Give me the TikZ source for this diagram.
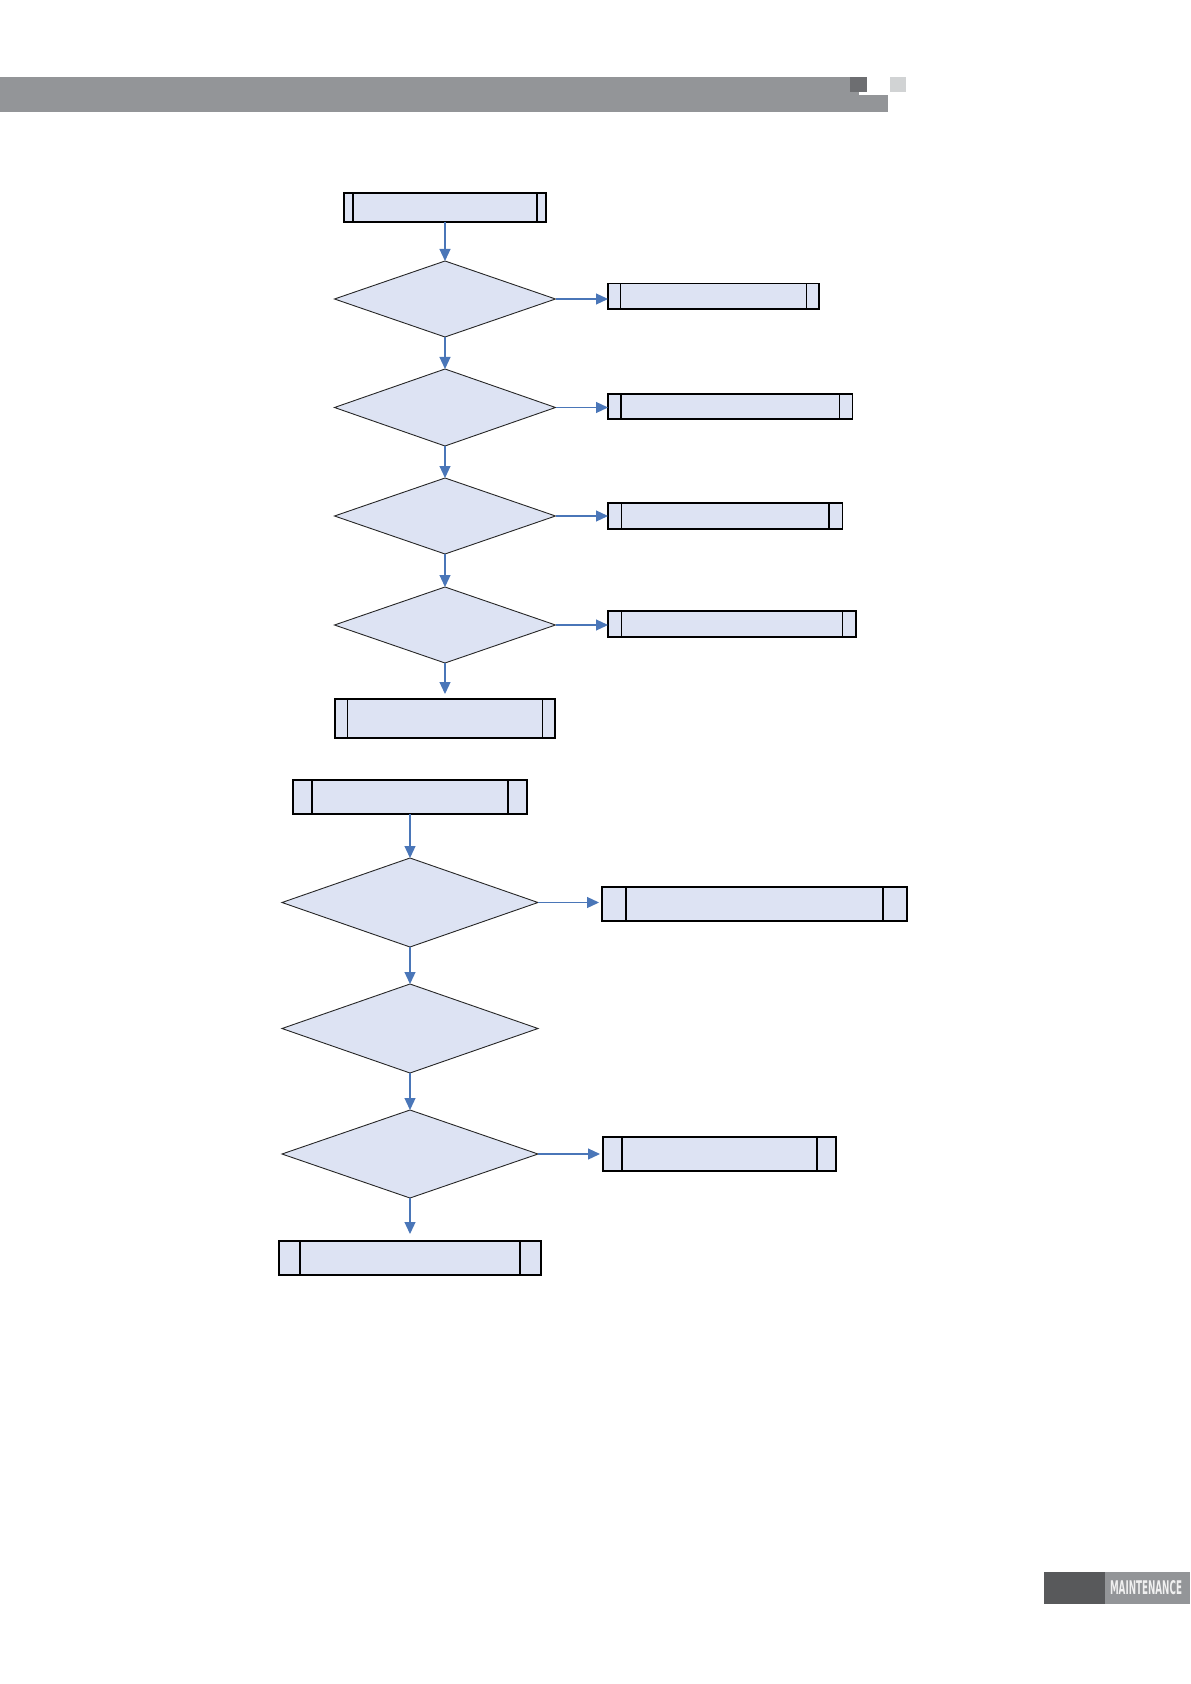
\documentclass[tikz,border=0pt]{standalone}
\usepackage{fontspec}
\setmainfont{DejaVu Sans}
\usetikzlibrary{shapes.geometric,arrows.meta,fit,calc}
\definecolor{barGray}{RGB}{147,149,152}
\definecolor{darkSq}{RGB}{109,110,113}
\definecolor{lightSq}{RGB}{209,211,212}
\definecolor{footDark}{RGB}{88,89,91}
\definecolor{shapeFill}{RGB}{221,227,243}
\definecolor{arrowBlue}{RGB}{74,118,184}
\tikzset{
  procbox/.style={draw=black, line width=0.6pt, fill=shapeFill, inner sep=0pt, outer sep=0pt},
  decision/.style={diamond, draw=black!85, line width=0.45pt, fill=shapeFill, inner sep=0pt, outer sep=0pt, text width=0pt, align=center},
  flowarrow/.style={draw=arrowBlue, line width=0.6pt, -{Triangle[length=6pt,width=5.5pt]}},
  innerline/.style={draw=black, line width=0.6pt}
}
\newcommand{\procnode}[6]{%
  \node[procbox, fit={(#2,#3) (#4,#5)}] (#1) {};
  \draw[innerline] ($(#1.north west)+(#6,0)$) -- ($(#1.south west)+(#6,0)$);
  \draw[innerline] ($(#1.north east)-(#6,0)$) -- ($(#1.south east)-(#6,0)$);
}
\begin{document}
\begin{tikzpicture}[x=0.5pt,y=-0.5pt]
\useasboundingbox (0,0) rectangle (1190,1684);
% header bar
\fill[barGray] (0,77) rectangle (859,112);
\fill[barGray] (859,95) rectangle (888,112);
\fill[darkSq] (850,77) rectangle (867,92);
\fill[lightSq] (890,77) rectangle (906,92);
% footer
\fill[footDark] (1044,1572) rectangle (1105,1604);
\fill[barGray] (1105,1572) rectangle (1190,1604);
\node[inner sep=0pt, text=white!94!black] (foot) at (1146,1588) {\resizebox{36pt}{7pt}{\bfseries MAINTENANCE}};

% ---------- first chart ----------
\procnode{t0}{344}{193}{546}{222}{9}
\node[decision, minimum width=110.5pt, minimum height=38pt] (d1) at (445,299) {};
\node[decision, minimum width=110.5pt, minimum height=38.5pt] (d2) at (445,407.5) {};
\node[decision, minimum width=110.5pt, minimum height=38pt] (d3) at (445,516) {};
\node[decision, minimum width=110.5pt, minimum height=38pt] (d4) at (445,625) {};
\procnode{s1}{608}{283.5}{819}{309}{12.5}
\procnode{s2}{608}{394}{852.5}{419}{13}
\procnode{s3}{608}{503}{842.5}{529}{13.5}
\procnode{s4}{608}{611}{856}{637}{13.5}
\procnode{a0}{335}{699}{555}{738}{12.5}

\draw[flowarrow] (t0.south) -- (d1.north);
\draw[flowarrow] (d1.south) -- (d2.north);
\draw[flowarrow] (d2.south) -- (d3.north);
\draw[flowarrow] (d3.south) -- (d4.north);
\draw[flowarrow, shorten >=2.5pt] (d4.south) -- (a0.north);
\draw[flowarrow] (d1.east) -- (d1.east -| s1.west);
\draw[flowarrow] (d2.east) -- (d2.east -| s2.west);
\draw[flowarrow] (d3.east) -- (d3.east -| s3.west);
\draw[flowarrow] (d4.east) -- (d4.east -| s4.west);

% ---------- second chart ----------
\procnode{t1}{293}{780}{527}{814}{19}
\node[decision, minimum width=128pt, minimum height=44.5pt] (b1) at (410,902.5) {};
\node[decision, minimum width=128pt, minimum height=44.5pt] (b2) at (410,1028.5) {};
\node[decision, minimum width=128pt, minimum height=44pt] (b3) at (410,1154) {};
\procnode{r1}{602}{887}{907}{921}{24}
\procnode{r3}{603}{1137}{836}{1171}{19}
\procnode{bb}{279}{1241}{541}{1275}{21}

\draw[flowarrow] (t1.south) -- (b1.north);
\draw[flowarrow] (b1.south) -- (b2.north);
\draw[flowarrow] (b2.south) -- (b3.north);
\draw[flowarrow, shorten >=3.5pt] (b3.south) -- (bb.north);
\draw[flowarrow, shorten >=1.5pt] (b1.east) -- (b1.east -| r1.west);
\draw[flowarrow, shorten >=1.5pt] (b3.east) -- (b3.east -| r3.west);
\end{tikzpicture}
\end{document}
